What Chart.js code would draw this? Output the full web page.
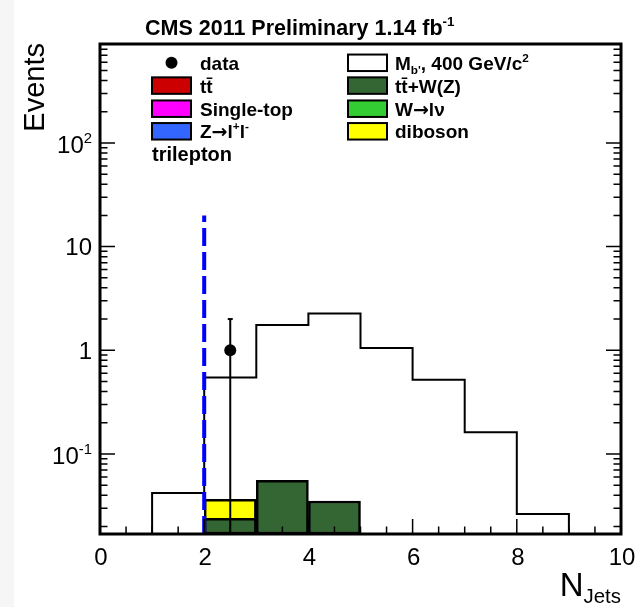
<!DOCTYPE html>
<html>
<head>
<meta charset="utf-8">
<script src="https://cdn.jsdelivr.net/npm/chart.js@4.4.0/dist/chart.umd.min.js"></script>
<style>
body { margin: 0; background: #f6f6f6; }
#wrap { position: absolute; left: 0; top: 0; width: 638px; height: 607px; }
</style>
</head>
<body>
<div id="wrap"><canvas id="chart" width="638" height="607"></canvas></div>
<script>
// N jets bins
var binEdges = [0, 1, 2, 3, 4, 5, 6, 7, 8, 9, 10];

// backgrounds, stacked bottom -> top
var ttbar     = [0, 0, 0, 0, 0, 0, 0, 0, 0, 0];
var singleTop = [0, 0, 0, 0, 0, 0, 0, 0, 0, 0];
var zll       = [0, 0, 0, 0, 0, 0, 0, 0, 0, 0];
var ttV       = [0, 0, 0.024, 0.0557, 0.0352, 0, 0, 0, 0, 0];
var wlnu      = [0, 0, 0, 0, 0, 0, 0, 0, 0, 0];
var diboson   = [0, 0, 0.0125, 0, 0, 0, 0, 0, 0, 0];

// b' signal, M = 400 GeV/c2
var signalBp = [0, 0.042, 0.545, 1.75, 2.26, 1.05, 0.52, 0.162, 0.0263, 0];

// data
var dataX = [2.5];
var dataY = [1];
var dataErrLow = [1];
var dataErrHigh = [1];

// selection cut line
var cutX = 2;
var cutTop = 20;

// axes
var xMin = 0, xMax = 10;
var yMin = 0.0169, yMax = 900;
var xTicks = [0, 2, 4, 6, 8, 10];
var xTickLabels = ["0", "2", "4", "6", "8", "10"];
var yTicks = [0.1, 1, 10, 100];
var yTickLabels = [[["10", 0], ["-1", 1]], [["1", 0]], [["10", 0]], [["10", 0], ["2", 1]]];

var stackValues = [ttbar, singleTop, zll, ttV, wlnu, diboson];
var stackColors = ["#cc0000", "#ff00ff", "#3366ff", "#336633", "#33cc33", "#ffff00"];

var legendLeft = [
    [["data", 0]],
    [["tt\u0304", 0]],
    [["Single-top", 0]],
    [["Z", 0], ["\u2192", 2], ["l", 0], ["+", 1], ["l", 0], ["-", 1]]
];
var legendLeftColors = [null, "#cc0000", "#ff00ff", "#3366ff"];
var legendRight = [
    [["M", 0], ["b'", -1], [", 400 GeV/c", 0], ["2", 1]],
    [["tt\u0304+W(Z)", 0]],
    [["W", 0], ["\u2192", 2], ["l\u03bd", 0]],
    [["diboson", 0]]
];
var legendRightColors = ["#ffffff", "#336633", "#33cc33", "#ffff00"];

var FONT = '"Liberation Sans", Arial, Helvetica, sans-serif';
var SYMFONT = '"DejaVu Sans", sans-serif';

function floorVal(v) {
    return v > yMin ? v : yMin;
}

// step outline for a histogram
function histPoints(vals) {
    var pts = [{ x: binEdges[0], y: yMin }];
    for (var i = 0; i < vals.length; i++) {
        pts.push({ x: binEdges[i], y: floorVal(vals[i]) });
    }
    pts.push({ x: binEdges[binEdges.length - 1], y: yMin });
    return pts;
}

var datasets = [];

// cut line on top
datasets.push({
    type: 'line',
    data: [{ x: cutX, y: yMin }, { x: cutX, y: cutTop }],
    borderColor: '#0000ff',
    borderWidth: 4,
    borderDash: [18, 6],
    pointRadius: 0,
    fill: false,
    order: 0
});

// data points
datasets.push({
    type: 'line',
    data: dataX.map(function (x, i) { return { x: x, y: dataY[i] }; }),
    showLine: false,
    pointRadius: 6,
    pointBackgroundColor: '#000',
    pointBorderWidth: 0,
    order: 1
});

// data error bars
dataX.forEach(function (x, i) {
    datasets.push({
        type: 'line',
        data: [{ x: x, y: floorVal(dataY[i] - dataErrLow[i]) }, { x: x, y: dataY[i] + dataErrHigh[i] }],
        borderColor: '#000',
        borderWidth: 2,
        pointRadius: [0, 2.5],
        pointStyle: 'line',
        pointBorderColor: '#000',
        pointBorderWidth: 2,
        fill: false,
        order: 2
    });
});

// signal outline
datasets.push({
    type: 'line',
    data: histPoints(signalBp),
    stepped: 'before',
    borderColor: '#000',
    borderWidth: 2,
    pointRadius: 0,
    fill: false,
    order: 3
});

// stacked backgrounds, each bin as a floating bar from the floor
var cum = binEdges.slice(1).map(function () { return 0; });
stackValues.forEach(function (vals, s) {
    var pts = [];
    for (var i = 0; i < vals.length; i++) {
        cum[i] += vals[i];
        if (vals[i] > 0) {
            pts.push({ x: (binEdges[i] + binEdges[i + 1]) / 2, y: [yMin, cum[i]] });
        }
    }
    if (pts.length === 0) return;
    datasets.push({
        type: 'bar',
        data: pts,
        backgroundColor: stackColors[s],
        borderColor: '#000',
        borderWidth: 2.5,
        borderSkipped: false,
        grouped: false,
        categoryPercentage: 1,
        barPercentage: 1,
        order: 10 + s
    });
});

// parts: [text, kind] with kind 0 normal, 1 superscript, -1 subscript, 2 symbol
function richText(ctx, parts, x, y, size, weight, align) {
    var widths = [], total = 0, i;
    function setFont(kind) {
        var s = (kind === 1 || kind === -1) ? size * 0.62 : size;
        ctx.font = weight + ' ' + s + 'px ' + (kind === 2 ? SYMFONT : FONT);
    }
    for (i = 0; i < parts.length; i++) {
        setFont(parts[i][1]);
        widths.push(ctx.measureText(parts[i][0]).width);
        total += widths[i];
    }
    var cx = x;
    if (align === 'right') cx = x - total;
    if (align === 'center') cx = x - total / 2;
    ctx.textAlign = 'left';
    ctx.textBaseline = 'alphabetic';
    for (i = 0; i < parts.length; i++) {
        var sh = parts[i][1];
        setFont(sh);
        var dy = sh === 1 ? -size * 0.42 : (sh === -1 ? size * 0.22 : 0);
        ctx.fillText(parts[i][0], cx, y + dy);
        cx += widths[i];
    }
}

var pageBg = {
    id: 'pageBg',
    beforeDraw: function (chart) {
        var ctx = chart.ctx;
        ctx.save();
        ctx.fillStyle = '#ffffff';
        ctx.fillRect(14, 0, chart.width - 14, chart.height);
        ctx.restore();
    }
};

var rootFrame = {
    id: 'rootFrame',
    afterDatasetsDraw: function (chart) {
        var ctx = chart.ctx, a = chart.chartArea;
        var xs = chart.scales.x, ys = chart.scales.y;
        ctx.save();
        ctx.strokeStyle = '#000';
        ctx.lineWidth = 1.5;
        ctx.beginPath();
        for (var v = xMin + 0.5; v < xMax; v += 0.5) {
            var px = xs.getPixelForValue(v);
            var len = xTicks.indexOf(v) >= 0 ? 15 : 7.5;
            ctx.moveTo(px, a.bottom);
            ctx.lineTo(px, a.bottom - len);
        }
        for (var d = -2; d <= 2; d++) {
            for (var k = 1; k <= 9; k++) {
                var val = k * Math.pow(10, d);
                if (val < yMin || val > yMax) continue;
                var py = ys.getPixelForValue(val);
                var l = k === 1 ? 15 : 7.5;
                ctx.moveTo(a.left, py);
                ctx.lineTo(a.left + l, py);
                ctx.moveTo(a.right, py);
                ctx.lineTo(a.right - l, py);
            }
        }
        ctx.stroke();
        ctx.lineWidth = 3;
        ctx.strokeRect(a.left, a.top, a.right - a.left, a.bottom - a.top);
        ctx.restore();
    },
    afterDraw: function (chart) {
        var ctx = chart.ctx, a = chart.chartArea;
        var xs = chart.scales.x, ys = chart.scales.y;
        ctx.save();
        ctx.fillStyle = '#000';

        // tick labels
        xTicks.forEach(function (t, i) {
            richText(ctx, [[xTickLabels[i], 0]], xs.getPixelForValue(t) + 1, a.bottom + 31, 24, 'normal', 'center');
        });
        yTicks.forEach(function (t, i) {
            var lab = yTickLabels[i];
            var off = lab.length > 1 ? 10 : 8.5;
            richText(ctx, lab, a.left - 8, ys.getPixelForValue(t) + off, 24, 'normal', 'right');
        });

        // title
        richText(ctx, [["CMS 2011 Preliminary 1.14 fb", 0], ["-1", 1]], 145, 35, 21.5, 'bold', 'left');

        // axis titles
        richText(ctx, [["N", 0], ["Jets", -1]], a.right, a.bottom + 62, 33, 'normal', 'right');
        ctx.save();
        ctx.translate(44, a.top - 1);
        ctx.rotate(-Math.PI / 2);
        richText(ctx, [["Events", 0]], 0, 0, 29, 'normal', 'right');
        ctx.restore();

        // legend
        var rowY = [62.8, 85.6, 108.7, 131.3];
        var boxW = 39, boxH = 16.5;
        var col1 = 152, col2 = 348;
        for (var r = 0; r < rowY.length; r++) {
            var cy = rowY[r];
            if (legendLeftColors[r] === null) {
                ctx.beginPath();
                ctx.arc(col1 + boxW / 2, cy, 6, 0, Math.PI * 2);
                ctx.fill();
            } else {
                ctx.fillStyle = legendLeftColors[r];
                ctx.fillRect(col1, cy - boxH / 2, boxW, boxH);
                ctx.lineWidth = 2;
                ctx.strokeStyle = '#000';
                ctx.strokeRect(col1, cy - boxH / 2, boxW, boxH);
            }
            ctx.fillStyle = '#000';
            richText(ctx, legendLeft[r], col1 + 48, cy + 7, 19, 'bold', 'left');

            ctx.fillStyle = legendRightColors[r];
            ctx.fillRect(col2, cy - boxH / 2, boxW, boxH);
            ctx.lineWidth = 2;
            ctx.strokeStyle = '#000';
            ctx.strokeRect(col2, cy - boxH / 2, boxW, boxH);
            ctx.fillStyle = '#000';
            richText(ctx, legendRight[r], col2 + 47, cy + 7, 19, 'bold', 'left');
        }
        richText(ctx, [["trilepton", 0]], col1, 161, 20, 'bold', 'left');
        ctx.restore();
    }
};

new Chart(document.getElementById('chart'), {
    type: 'line',
    data: { datasets: datasets },
    options: {
        responsive: false,
        animation: false,
        layout: { padding: { left: 100, right: 17, top: 44, bottom: 73 } },
        plugins: { legend: { display: false }, tooltip: { enabled: false } },
        scales: {
            x: { type: 'linear', min: xMin, max: xMax, offset: false, display: false },
            y: { type: 'logarithmic', min: yMin, max: yMax, display: false }
        }
    },
    plugins: [pageBg, rootFrame]
});
</script>
</body>
</html>
